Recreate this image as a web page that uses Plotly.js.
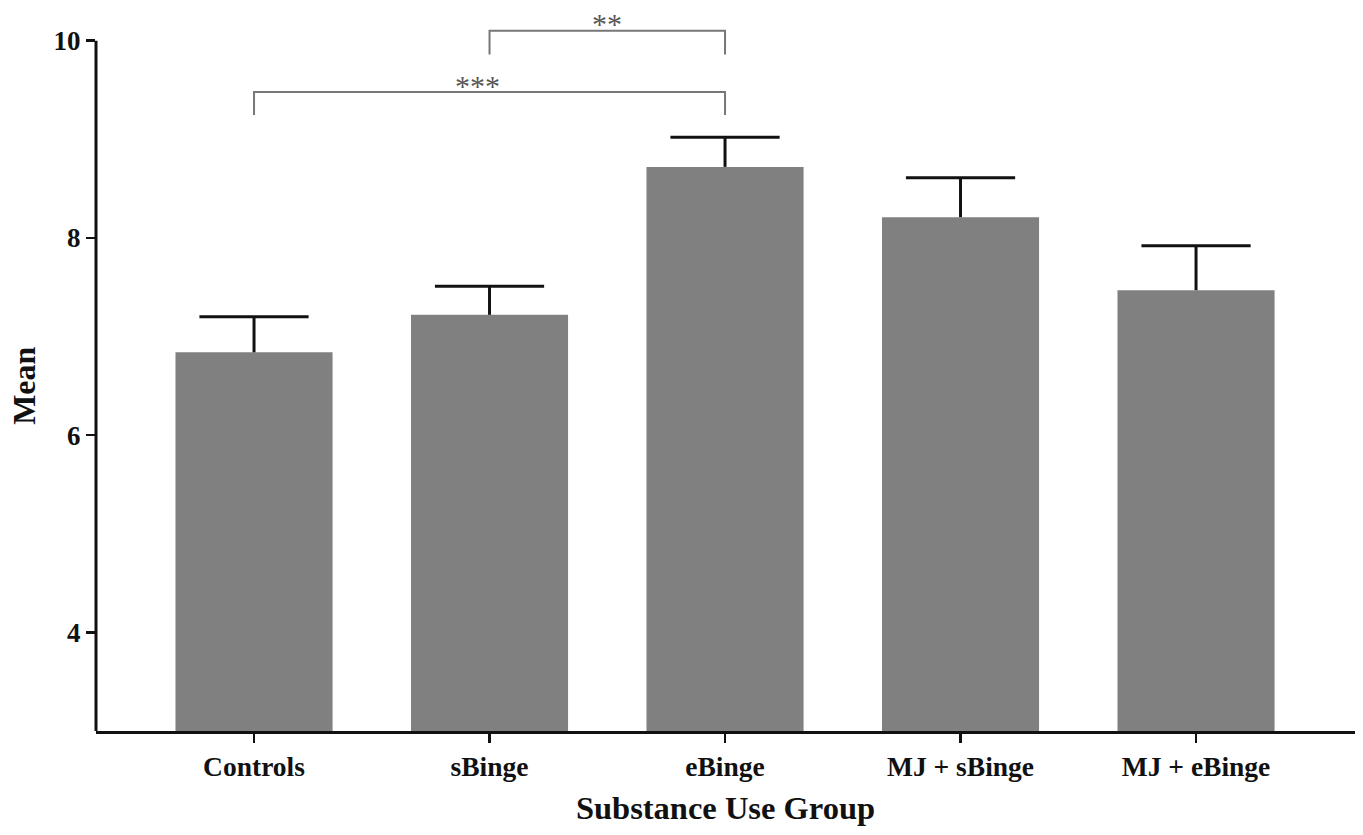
<!DOCTYPE html>
<html>
<head>
<meta charset="utf-8">
<script src="https://cdn.plot.ly/plotly-3.0.1.min.js"></script>
<style>html,body{margin:0;padding:0;background:#fff;}#chart{width:1363px;height:835px;}</style>
</head>
<body>
<div id="chart"></div>
<script>
// Data
const groups = ["Controls", "sBinge", "eBinge", "MJ + sBinge", "MJ + eBinge"];
const means = [6.84, 7.22, 8.72, 8.21, 7.47];
const sem = [0.36, 0.29, 0.30, 0.40, 0.45];
const yTickVals = [4, 6, 8, 10];
const yTickText = ["4", "6", "8", "10"];

// Significance brackets
const bracketFrom = [1, 0];
const bracketTo = [2, 2];
const bracketTop = [10.10, 9.48];
const bracketLeg = [9.86, 9.245];
const bracketLabel = ["**", "***"];
const bracketLabelX = [1.5, 0.95];
const bracketLabelY = [10.17, 9.55];

const serif = "Liberation Serif, Times New Roman, serif";
const xIdx = groups.map((g, i) => i);

const barTrace = {
  type: "bar",
  x: xIdx,
  y: means,
  marker: { color: "#808080", line: { width: 0 } },
  error_y: {
    type: "data",
    symmetric: false,
    array: sem,
    arrayminus: sem.map(() => 0),
    color: "#111111",
    thickness: 3,
    width: 0,
    visible: true
  },
  hoverinfo: "skip"
};

// top caps of the one-sided error bars
const capTrace = {
  type: "scatter",
  mode: "markers",
  x: xIdx,
  y: means.map((m, i) => m + sem[i]),
  marker: { symbol: "line-ew", size: 78, color: "#111111",
    line: { color: "#111111", width: 3 } },
  hoverinfo: "skip",
  cliponaxis: false
};

const shapes = [
  { type: "line", xref: "paper", yref: "y", x0: 0, x1: 0, y0: 3, y1: 10,
    line: { color: "#111111", width: 3 } }
];
const annotations = [
  { xref: "paper", yref: "y", x: 0, xshift: -72, y: 6.5, text: "Mean",
    textangle: -90, showarrow: false, xanchor: "center", yanchor: "middle",
    font: { family: serif, size: 32, color: "#111111", weight: "bold" } }
];
for (let k = 0; k < bracketFrom.length; k++) {
  const a = bracketFrom[k], b = bracketTo[k];
  shapes.push({ type: "path", xref: "x", yref: "y",
    path: `M ${a},${bracketLeg[k]} L ${a},${bracketTop[k]} L ${b},${bracketTop[k]} L ${b},${bracketLeg[k]}`,
    line: { color: "#777777", width: 2 } });
  annotations.push({ xref: "x", yref: "y", x: bracketLabelX[k], y: bracketLabelY[k],
    text: bracketLabel[k], showarrow: false, xanchor: "center", yanchor: "middle",
    font: { family: serif, size: 30, color: "#555555" } });
}

const layout = {
  width: 1363,
  height: 835,
  margin: { l: 96, r: 8, t: 16, b: 104, pad: 0 },
  paper_bgcolor: "#ffffff",
  plot_bgcolor: "#ffffff",
  showlegend: false,
  bargap: 0.333,
  xaxis: {
    type: "linear",
    range: [-0.671, 4.675],
    tickmode: "array",
    tickvals: xIdx,
    ticktext: groups,
    showgrid: false,
    zeroline: false,
    showline: true,
    linecolor: "#111111",
    linewidth: 3,
    ticks: "outside",
    ticklen: 9,
    tickwidth: 2.5,
    tickcolor: "#111111",
    tickfont: { family: serif, size: 27.5, color: "#111111", weight: "bold" },
    title: { text: "Substance Use Group", standoff: 16,
      font: { family: serif, size: 32.5, color: "#111111", weight: "bold" } }
  },
  yaxis: {
    range: [3, 10.25],
    tickmode: "array",
    tickvals: yTickVals,
    ticktext: yTickText,
    showgrid: false,
    zeroline: false,
    showline: false,
    ticks: "outside",
    ticklen: 9,
    tickwidth: 2.5,
    tickcolor: "#111111",
    tickfont: { family: serif, size: 27, color: "#111111", weight: "bold" }
  },
  shapes: shapes,
  annotations: annotations
};

Plotly.newPlot("chart", [barTrace, capTrace], layout, { displayModeBar: false, staticPlot: true });
</script>
</body>
</html>
